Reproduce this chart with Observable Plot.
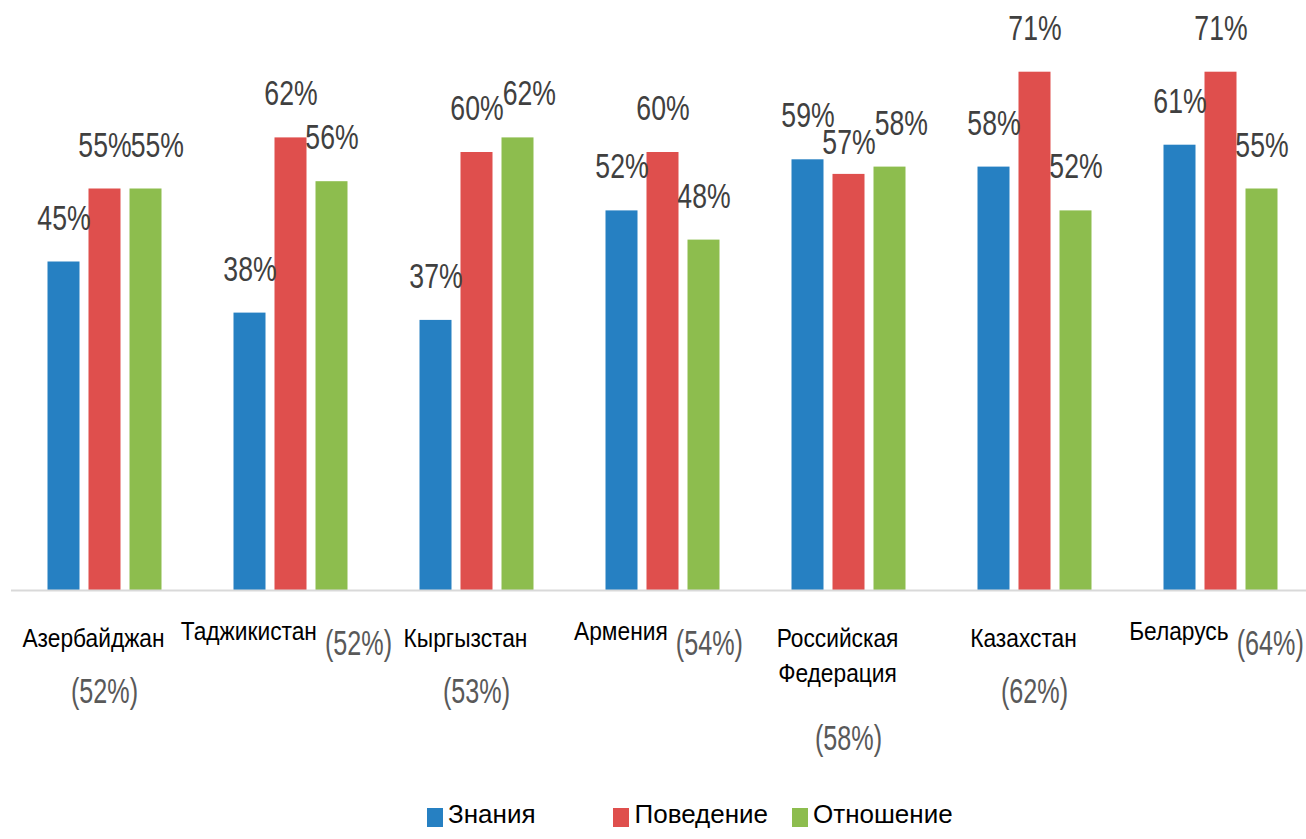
<!DOCTYPE html>
<html>
<head>
<meta charset="utf-8">
<script src="https://cdn.jsdelivr.net/npm/d3@7"></script>
<script src="https://cdn.jsdelivr.net/npm/@observablehq/plot@0.6"></script>
<style>
  html, body { margin: 0; padding: 0; background: #fff; width: 1306px; height: 839px; overflow: hidden; }
  #chart svg { display: block; overflow: visible; }
  .lib { font-family: "Liberation Sans", Arial, sans-serif; }
  #legend { display: flex; align-items: center; height: 49px; padding-left: 427px; font-size: 26px; color: #000; }
  #legend .item { display: flex; align-items: center; }
  #legend .sw { width: 16px; height: 19px; margin-right: 5px; margin-top: 6px; }
</style>
</head>
<body>
<div id="chart" class="lib"></div>
<div id="legend" class="lib"></div>
<script>
// ---- data ----
const countries = ["Азербайджан", "Таджикистан", "Кыргызстан", "Армения", "Российская Федерация", "Казахстан", "Беларусь"];
const countryLabels = ["Азербайджан", "Таджикистан", "Кыргызстан", "Армения", "Российская\nФедерация", "Казахстан", "Беларусь"];
const series = ["Знания", "Поведение", "Отношение"];
const knowledge = [45, 38, 37, 52, 59, 58, 61];
const behavior  = [55, 62, 60, 60, 57, 71, 71];
const attitude  = [55, 56, 62, 48, 58, 52, 55];
const averages  = [52, 52, 53, 54, 58, 62, 64];
const colors = ["#2680C2", "#DF4F4D", "#8DBD4E"];

// ---- build table ----
const seriesValues = [knowledge, behavior, attitude];
const data = countries.flatMap((c, i) => series.map((s, j) => ({country: c, series: s, value: seriesValues[j][i]})));
const inlineAvg = new Set(["Таджикистан", "Армения", "Беларусь"]);
const labelRows = countries.map((c, i) => ({
  country: c,
  name: countryLabels[i],
  avg: `(${averages[i]}%)`,
  lines: countryLabels[i].split("\n").length,
  inline: inlineAvg.has(c)
}));

const font = `"Liberation Sans", Arial, sans-serif`;
const wrapped = labelRows.filter(d => !d.inline);
const lineCounts = [...new Set(wrapped.map(d => d.lines))];

// horizontal squeeze to mimic the condensed typeface of the original
const SQ_NAME = 0.91, SQ_NUM = 0.74, SQ_AVG = 0.7;
const LABEL_DY = -44;

const chart = Plot.plot({
  width: 1306,
  height: 790,
  marginTop: 6,
  marginBottom: 200,
  marginLeft: 8.5,
  marginRight: -10,
  style: {fontFamily: font, background: "#fff", overflow: "visible"},
  fx: {domain: countries, padding: 0, axis: null},
  x: {domain: series, paddingInner: 0.22, paddingOuter: 0.85, axis: null},
  y: {domain: [0, 80], axis: null},
  color: {domain: series, range: colors},
  marks: [
    Plot.barY(data, {fx: "country", x: "series", y: "value", fill: "series"}),
    Plot.ruleY([0], {stroke: "#d9d9d9", strokeWidth: 2}),
    Plot.text(data, {fx: "country", x: "series", y: "value", text: d => `${d.value}%`, dy: LABEL_DY, fontSize: 36, fill: "#404040"}),
    // inline "Name (avg%)" labels (split below)
    Plot.text(labelRows.filter(d => d.inline), {fx: "country", frameAnchor: "bottom", text: d => `${d.name} ${d.avg}`, lineAnchor: "top", dy: 32, dx: -4, fontSize: 25, fill: "#000"}),
    // wrapped names
    Plot.text(wrapped, {fx: "country", frameAnchor: "bottom", text: "name", lineAnchor: "top", dy: 32, dx: -11, lineHeight: 1.4, fontSize: 25, fill: "#000"}),
    // averages below the names
    ...lineCounts.map(n => Plot.text(wrapped.filter(d => d.lines === n), {fx: "country", frameAnchor: "bottom", text: "avg", lineAnchor: "top", dy: 87 + (n - 1) * 47, fontSize: 36, fill: "#595959"}))
  ]
});

document.getElementById("chart").append(chart);

const parseT = s => { const m = /translate\(\s*([-\d.e]+)[ ,]+([-\d.e]+)\s*\)/.exec(s || ""); return m ? [+m[1], +m[2]] : [0, 0]; };

// post-process texts: condense, split inline labels into name + grey average
const inlineRe = /^(.*\S) (\(\d+%\))$/;
const valueGroups = new Map();
d3.select(chart).selectAll("text").each(function () {
  const el = d3.select(this);
  const t = el.text();
  const base = el.attr("transform") || "";
  const m = t.match(inlineRe);
  if (m) {
    el.text(m[1]).attr("text-anchor", "start").attr("font-size", 25).attr("fill", "#000");
    const avgNode = this.cloneNode(false);
    this.parentNode.appendChild(avgNode);
    const av = d3.select(avgNode).text(m[2]).attr("font-size", 36).attr("fill", "#595959").attr("text-anchor", "start");
    const w1 = this.getComputedTextLength() * SQ_NAME;
    const w2 = avgNode.getComputedTextLength() * SQ_AVG;
    const gap = 8;
    const start = -(w1 + gap + w2) / 2;
    el.attr("transform", `${base} translate(${start},0) scale(${SQ_NAME},1)`);
    av.attr("transform", `${base} translate(${start + w1 + gap},7) scale(${SQ_AVG},1)`);
    return;
  }
  if (/^\d+%$/.test(t)) {
    const g = this.parentNode;
    if (!valueGroups.has(g)) valueGroups.set(g, []);
    valueGroups.get(g).push(this);
    return;
  }
  const k = /^\(\d+%\)$/.test(t) ? SQ_AVG : SQ_NAME;
  el.attr("transform", `${base} scale(${k},1)`);
});

// simple label collision avoidance (per country group), Excel-like:
// a lower label drops below the one it collides with if there is room above its bar, else it slides right
const H = 26, ROOM = 8, TOL = 1;
for (const nodes of valueGroups.values()) {
  const placed = [];
  for (const node of nodes) {
    const [tx, ty] = parseT(node.getAttribute("transform"));
    const w = node.getComputedTextLength() * SQ_NUM;
    const lab = {node, tx, ty, w, cx: tx, cy: ty + LABEL_DY};
    for (let iter = 0; iter < 10; iter++) {
      const hit = placed.find(p => Math.abs(lab.cx - p.cx) < (lab.w + p.w) / 2 - TOL && Math.abs(lab.cy - p.cy) < H);
      if (!hit) break;
      const newCy = hit.cy + H + 1;
      if (lab.cy > hit.cy + 2 && lab.ty - (newCy + H / 2) >= ROOM) lab.cy = newCy;
      else lab.cx = hit.cx + (lab.w + hit.w) / 2 - TOL;
    }
    placed.push(lab);
    node.setAttribute("transform", `translate(${lab.cx},${lab.cy - LABEL_DY}) scale(${SQ_NUM},1)`);
  }
}

// legend
const legend = d3.select("#legend");
const gaps = [78, 24, 0];
series.forEach((s, i) => {
  const item = legend.append("div").attr("class", "item").style("margin-right", gaps[i] + "px");
  item.append("div").attr("class", "sw").style("background", colors[i]);
  item.append("span").text(s);
});
</script>
</body>
</html>
